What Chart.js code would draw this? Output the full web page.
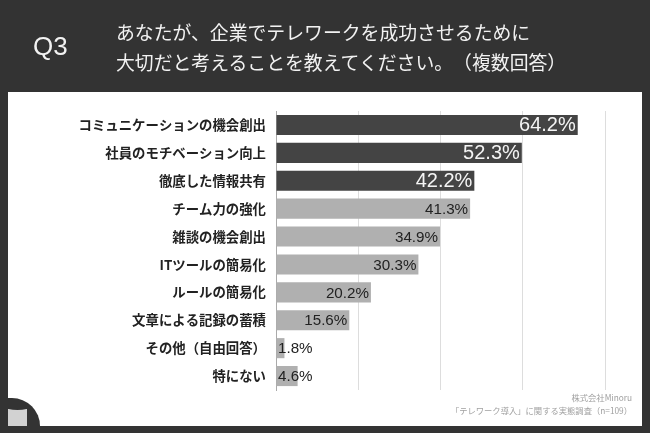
<!DOCTYPE html>
<html lang="ja">
<head>
<meta charset="utf-8">
<title>Q3</title>
<script src="https://cdn.jsdelivr.net/npm/chart.js@4"></script>
<style>
  html, body { margin: 0; padding: 0; }
  body {
    position: relative;
    width: 650px;
    height: 433px;
    overflow: hidden;
    background: #333333;
    font-family: "Noto Sans CJK JP", "Noto Sans", sans-serif;
    text-spacing-trim: space-all;
  }
  .panel { position: absolute; left: 8px; top: 92px; width: 634px; height: 334px; background: #fff; }
  #chart { position: absolute; left: 0; top: 0; }
  .q { position: absolute; left: 33px; top: 31px; font: 26px/30px "Liberation Sans", sans-serif; color: #f2f2f2; }
  .title { position: absolute; white-space: nowrap; left: 116px; color: #f2f2f2; font-size: 18.85px; line-height: 30px; }
  .note { position: absolute; white-space: nowrap; color: #a0a0a0; font-size: 8.3px; line-height: 12px; text-align: right; }
  .logo { position: absolute; left: 0; top: 398px; width: 40px; height: 35px; background: #333333; border-top-right-radius: 28px; overflow: hidden; }
  .logo i { position: absolute; left: 8px; top: 9px; width: 19px; height: 19px; background: #d2d2d2; overflow: hidden; }
  .logo i::before { content: ""; position: absolute; left: -3px; top: -3px; width: 25px; height: 6px; border-radius: 50%; background: #333333; }
</style>
</head>
<body>
<div class="panel"></div>
<canvas id="chart" width="650" height="433"></canvas>
<div class="q">Q3</div>
<div class="title" style="top:17px">あなたが、企業でテレワークを成功させるために</div>
<div class="title" style="top:47px">大切だと考えることを教えてください。（複数回答）</div>
<div class="note" style="right:18px;top:391px">株式会社Minoru</div>
<div class="note" style="right:18px;top:404px">「テレワーク導入」に関する実態調査（n=109）</div>
<div class="logo"><i></i></div>
<script>
const categories = [
  "コミュニケーションの機会創出",
  "社員のモチベーション向上",
  "徹底した情報共有",
  "チーム力の強化",
  "雑談の機会創出",
  "ITツールの簡易化",
  "ルールの簡易化",
  "文章による記録の蓄積",
  "その他（自由回答）",
  "特にない"
]
const values = [64.2, 52.3, 42.2, 41.3, 34.9, 30.3, 20.2, 15.6, 1.8, 4.6]
const highlightCount = 3 // top answers are drawn dark

const DARK = "#444444"
const GREY = "#b0b0b0"

// Chart.js has no data labels of its own, so draw the percentages here
const valueLabels = {
  id: "valueLabels",
  afterDatasetsDraw(chart) {
    const ctx = chart.ctx
    const meta = chart.getDatasetMeta(0)
    ctx.save()
    ctx.textBaseline = "middle"
    meta.data.forEach((bar, i) => {
      const isTop = i < highlightCount
      const small = values[i] < 5
      ctx.font = (isTop ? "20px" : "15.2px") + ' "Liberation Sans", sans-serif'
      ctx.fillStyle = isTop ? "#f4f4f4" : "#222222"
      ctx.textAlign = small ? "left" : "right"
      const x = small ? chart.chartArea.left + 2 : bar.x - 2
      ctx.fillText(values[i].toFixed(1) + "%", x, bar.y + 1)
    })
    ctx.restore()
  }
}

new Chart(document.getElementById("chart"), {
  type: "bar",
  data: {
    labels: categories,
    datasets: [{
      data: values,
      backgroundColor: values.map((v, i) => (i < highlightCount ? DARK : GREY)),
      categoryPercentage: 0.72,
      barPercentage: 1
    }]
  },
  options: {
    indexAxis: "y",
    responsive: false,
    animation: false,
    layout: { padding: { top: 111, bottom: 43, right: 45, left: 0 } },
    plugins: { legend: { display: false }, tooltip: { enabled: false } },
    scales: {
      x: {
        min: 0,
        max: 70,
        grid: { color: "#dddddd", lineWidth: 1, drawTicks: false },
        border: { display: false },
        ticks: { display: false, stepSize: 17.5 }
      },
      y: {
        afterFit(scale) { scale.width = 276 },
        grid: { display: false, drawTicks: false },
        border: { color: "#aaaaaa" },
        ticks: {
          color: "#222222",
          padding: 10,
          font: { family: '"Noto Sans CJK JP", sans-serif', size: 13.4, weight: "700" }
        }
      }
    }
  },
  plugins: [valueLabels]
})
</script>
</body>
</html>
